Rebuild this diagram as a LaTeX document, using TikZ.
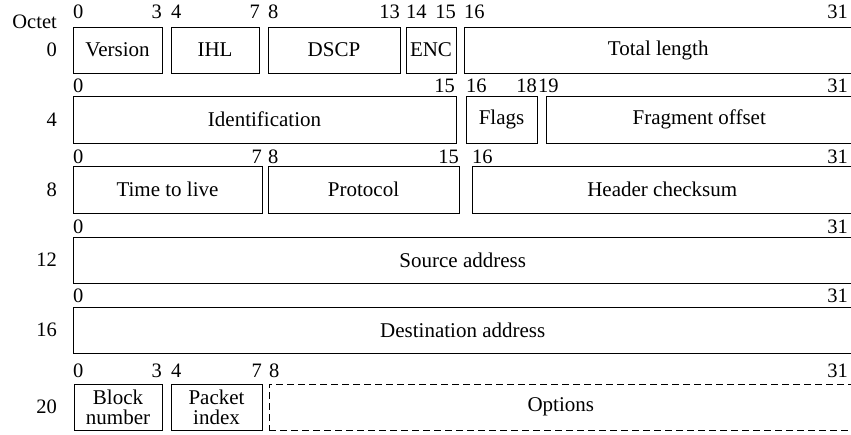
\documentclass[tikz,border=0pt]{standalone}
\usepackage{fontspec}
\setmainfont{Liberation Serif}
\newfontfamily\fieldfont{Liberation Serif}
\begin{document}
\begin{tikzpicture}[x=1pt,y=-1pt,
  field/.style={draw, line width=1pt, inner sep=0pt, align=center,
    font=\fieldfont\fontsize{21}{21}\selectfont},
  optfield/.style={field, dash pattern=on 7pt off 4pt},
  num/.style={inner sep=0pt, font=\fieldfont\fontsize{20.5}{20.5}\selectfont},
  rowlab/.style={inner sep=0pt, anchor=east, font=\fieldfont\fontsize{20.5}{20.5}\selectfont}]
\useasboundingbox (0,0) rectangle (851,434);
\clip (0,0) rectangle (851,434);
\newcommand\fieldnode[7][field]{%
  \node[#1, minimum width={#5pt-#3pt}, minimum height={#6pt-#4pt}]
    (#2) at ({(#3+#5)/2},{(#4+#6)/2}) {#7};}
\newcommand\lnum[4]{\node[num, anchor=base west] (#1) at (#2,#3) {#4};}
\newcommand\rnum[4]{\node[num, anchor=base east] (#1) at (#2,#3) {#4};}

% octet labels
\node[num, anchor=base east] (octet) at (57,28) {Octet};
\node[rowlab] (r0) at (57,50) {0};
\node[rowlab] (r4) at (57,119.5) {4};
\node[rowlab] (r8) at (57,189.5) {8};
\node[rowlab] (r12) at (57,260) {12};
\node[rowlab] (r16) at (57,330) {16};
\node[rowlab] (r20) at (57,407) {20};

% row 0
\fieldnode{ver}{73}{27}{162}{73}{Version}
\fieldnode{ihl}{171}{27}{259}{73}{IHL}
\fieldnode{dscp}{268}{27}{400}{73}{DSCP}
\fieldnode{enc}{406}{27}{456}{73}{ENC}
\fieldnode{tlen}{464}{27}{852.5}{73}{Total length}
\lnum{a0}{73}{18}{0}
\rnum{a3}{162}{18}{3}
\lnum{a4}{171}{18}{4}
\rnum{a7}{260}{18}{7}
\lnum{a8}{268}{18}{8}
\rnum{a13}{400}{18}{13}
\lnum{a14}{406}{18}{14}
\rnum{a15}{456}{18}{15}
\lnum{a16}{464}{18}{16}
\rnum{a31}{848}{18}{31}

% row 4
\fieldnode{ident}{73}{96}{456}{143}{Identification}
\fieldnode{flags}{466}{96}{537}{143}{Flags}
\fieldnode{frag}{546}{96}{852.5}{143}{Fragment offset}
\lnum{b0}{73}{92}{0}
\rnum{b15}{455}{92}{15}
\lnum{b16}{466}{92}{16}
\rnum{b18}{537}{92}{18}
\lnum{b19}{538}{92}{19}
\rnum{b31}{848}{92}{31}

% row 8
\fieldnode{ttl}{73}{166}{262}{213}{Time to live}
\fieldnode{proto}{268}{166}{459}{213}{Protocol}
\fieldnode{hcs}{472}{166}{852.5}{213}{Header checksum}
\lnum{c0}{73}{163}{0}
\rnum{c7}{262}{163}{7}
\lnum{c8}{268}{163}{8}
\rnum{c15}{459}{163}{15}
\lnum{c16}{472}{163}{16}
\rnum{c31}{848}{163}{31}

% row 12
\fieldnode{src}{73}{237}{852.5}{283}{Source address}
\lnum{d0}{73}{233}{0}
\rnum{d31}{848}{233}{31}

% row 16
\fieldnode{dst}{73}{307}{852.5}{353}{Destination address}
\lnum{e0}{73}{302}{0}
\rnum{e31}{848}{302}{31}

% row 20
\fieldnode{blk}{74}{384}{162}{430}{Block\\[-1pt]number}
\fieldnode{pkt}{171}{384}{262}{430}{Packet\\[-1pt]index}
\fieldnode[optfield]{opt}{269}{384}{852.5}{430}{Options}
\lnum{f0}{73}{377}{0}
\rnum{f3}{162}{377}{3}
\lnum{f4}{171}{377}{4}
\rnum{f7}{262}{377}{7}
\lnum{f8}{269}{377}{8}
\rnum{f31}{848}{377}{31}
\end{tikzpicture}
\end{document}
